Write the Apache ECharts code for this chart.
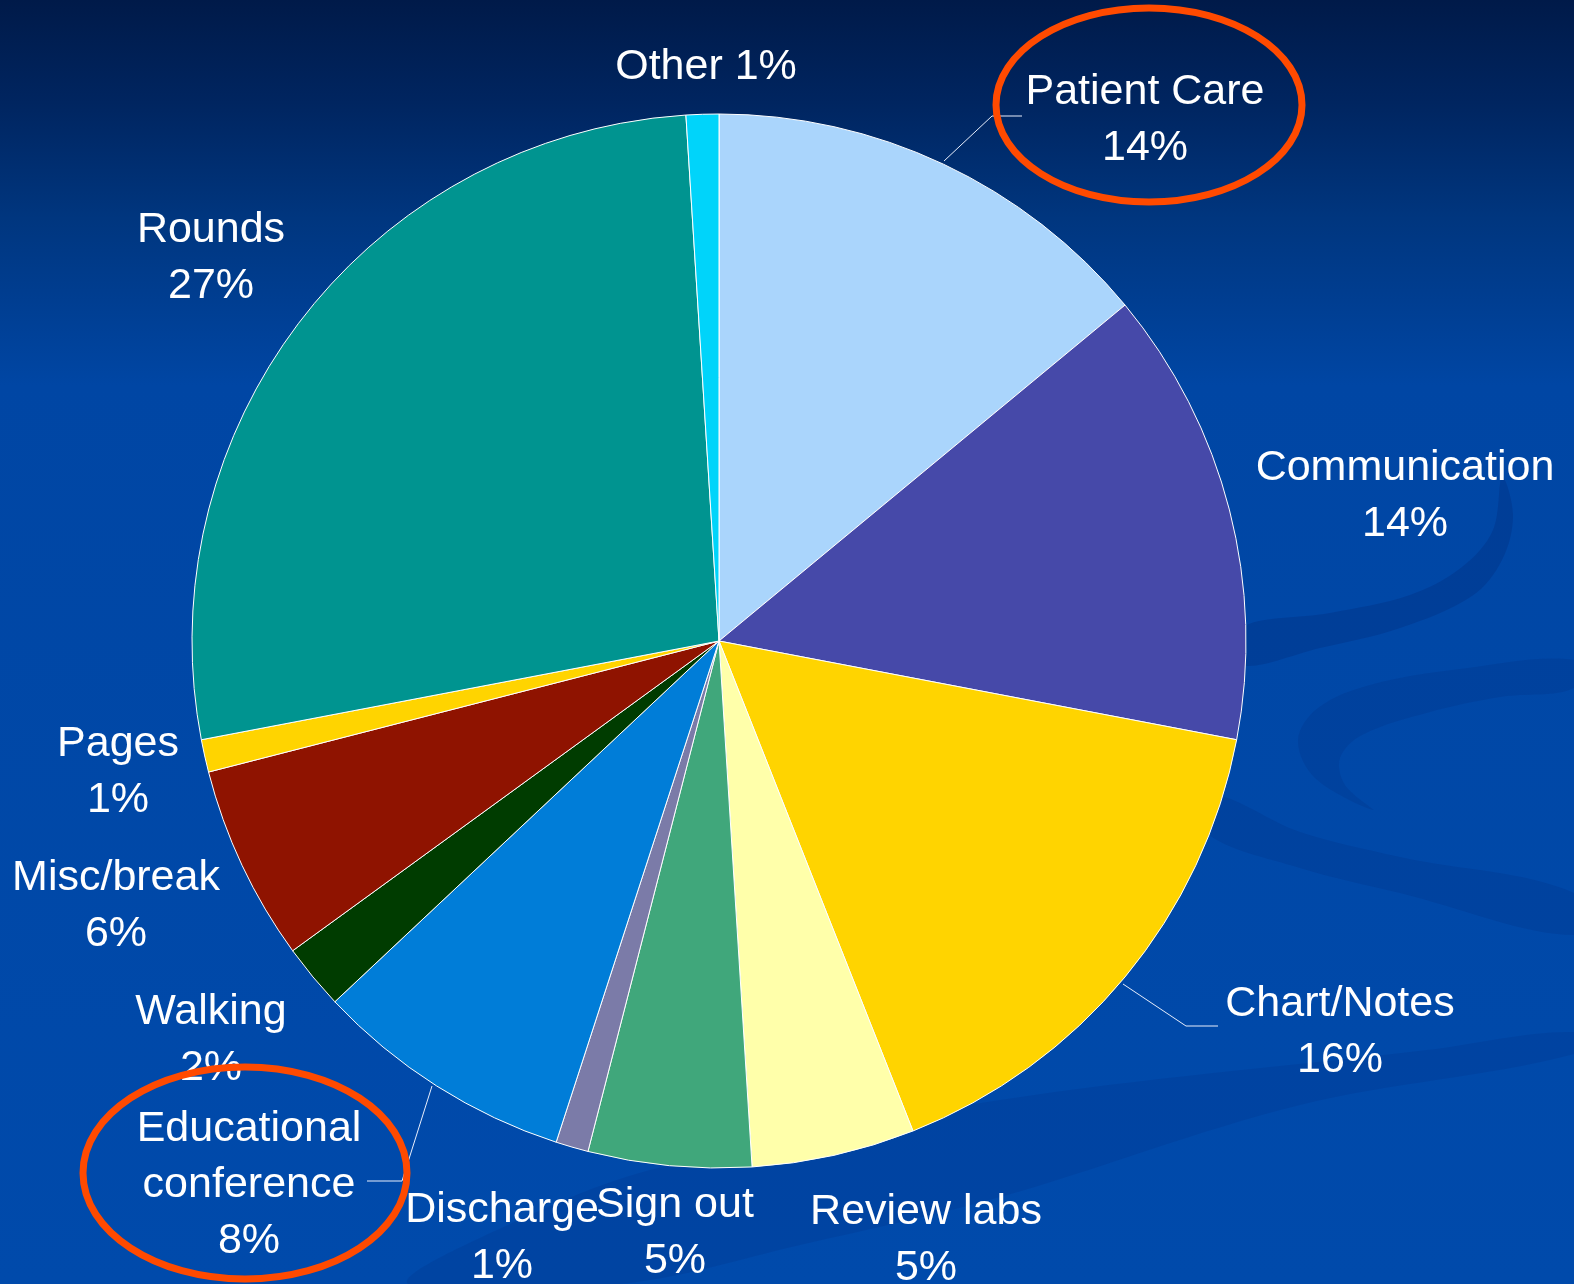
<!DOCTYPE html>
<html>
<head>
<meta charset="utf-8">
<script src="https://cdn.jsdelivr.net/npm/echarts@6/dist/echarts.min.js"></script>
<style>
  html, body { margin: 0; padding: 0; background: #0049a9; }
  #chart { width: 1574px; height: 1284px; }
</style>
</head>
<body>
<div id="chart"></div>
<script>
// Time spent by activity (percent of the day)
const categories = ['Patient Care', 'Communication', 'Chart/Notes', 'Review labs', 'Sign out',
  'Discharge', 'Educational\nconference', 'Walking', 'Misc/break', 'Pages', 'Rounds', 'Other'];
const shares = [14, 14, 16, 5, 5, 1, 8, 2, 6, 1, 27, 1];
const sliceColors = ['#aad5fc', '#4649a9', '#ffd400', '#ffffaa', '#40a77b', '#7b7ba8',
  '#007dd8', '#003c00', '#8f1300', '#ffd400', '#009490', '#00d4fa'];

// where each label block is centred
const labelSpots = [
  [1145, 120], [1405, 496], [1340, 1032], [926, 1240], [675, 1233], [502, 1238],
  [249, 1185], [211, 1040], [116, 906], [118, 772], [211, 258], [706, 67]
];
// leader lines for the callouts that have them
const leaderLines = {
  0: [[944, 161], [992, 116], [1022, 116]],
  2: [[1123, 984], [1186, 1026], [1218, 1026]],
  6: [[432, 1086], [402, 1181], [367, 1181]]
};

// soft decorative swooshes in the backdrop
const swooshes = [
  { pts: [[1240, 628], [1330, 613], [1410, 595], [1462, 567], [1493, 530], [1502, 477],
          [1513, 515], [1502, 560], [1472, 596], [1400, 628], [1320, 648], [1240, 665]], a: 0.25 },
  { pts: [[1574, 660], [1460, 669], [1370, 685], [1318, 708], [1298, 740], [1315, 778], [1373, 810],
          [1345, 785], [1340, 758], [1362, 735], [1430, 712], [1500, 697], [1574, 688]], a: 0.16 },
  { pts: [[1212, 795], [1300, 832], [1400, 857], [1574, 893], [1574, 935], [1400, 893],
          [1300, 868], [1205, 832]], a: 0.15 },
  { pts: [[408, 1284], [530, 1215], [662, 1167], [1000, 1100], [1427, 1050], [1574, 1032],
          [1574, 1054], [1300, 1105], [1000, 1197], [800, 1245], [620, 1284]], a: 0.14 }
];

const chart = echarts.init(document.getElementById('chart'));

const data = categories.map((name, i) => ({
  name: name,
  value: shares[i],
  itemStyle: { color: sliceColors[i] },
  labelLine: { show: leaderLines[i] !== undefined }
}));

const graphics = swooshes.map(s => ({
  type: 'polygon', z: 0, silent: true,
  shape: { points: s.pts, smooth: 0.35 },
  style: { fill: 'rgba(0,35,110,' + s.a + ')' }
}));
graphics.push(
  {
    type: 'ellipse', z: 100, silent: true,
    shape: { cx: 1149, cy: 105, rx: 153, ry: 97 },
    style: { fill: 'none', stroke: '#ff4a00', lineWidth: 7 }
  },
  {
    type: 'ellipse', z: 100, silent: true,
    shape: { cx: 245, cy: 1173, rx: 162, ry: 106 },
    style: { fill: 'none', stroke: '#ff4a00', lineWidth: 7 }
  }
);

chart.setOption({
  backgroundColor: {
    type: 'linear', x: 0, y: 0, x2: 0, y2: 1,
    colorStops: [
      { offset: 0, color: '#001a49' },
      { offset: 0.08, color: '#002560' },
      { offset: 0.17, color: '#00367f' },
      { offset: 0.3, color: '#0046a4' },
      { offset: 1, color: '#004aab' }
    ]
  },
  animation: false,
  graphic: graphics,
  series: [{
    type: 'pie',
    center: [719, 641],
    radius: 527,
    startAngle: 90,
    clockwise: true,
    avoidLabelOverlap: false,
    itemStyle: { borderColor: '#ffffff', borderWidth: 1 },
    emphasis: { disabled: true },
    label: {
      show: true,
      position: 'outside',
      color: '#ffffff',
      fontFamily: '"Liberation Sans", Arial, sans-serif',
      fontSize: 43,
      lineHeight: 56,
      align: 'center',
      formatter: p => p.name === 'Other' ? p.name + ' ' + p.value + '%' : p.name + '\n' + p.value + '%'
    },
    labelLine: {
      show: false,
      lineStyle: { color: '#e8eefc', width: 1 }
    },
    labelLayout: params => {
      const spot = labelSpots[params.dataIndex];
      const out = { x: spot[0], y: spot[1], align: 'center', verticalAlign: 'middle', hideOverlap: false };
      if (leaderLines[params.dataIndex]) out.labelLinePoints = leaderLines[params.dataIndex];
      return out;
    },
    data: data
  }]
});
</script>
</body>
</html>
